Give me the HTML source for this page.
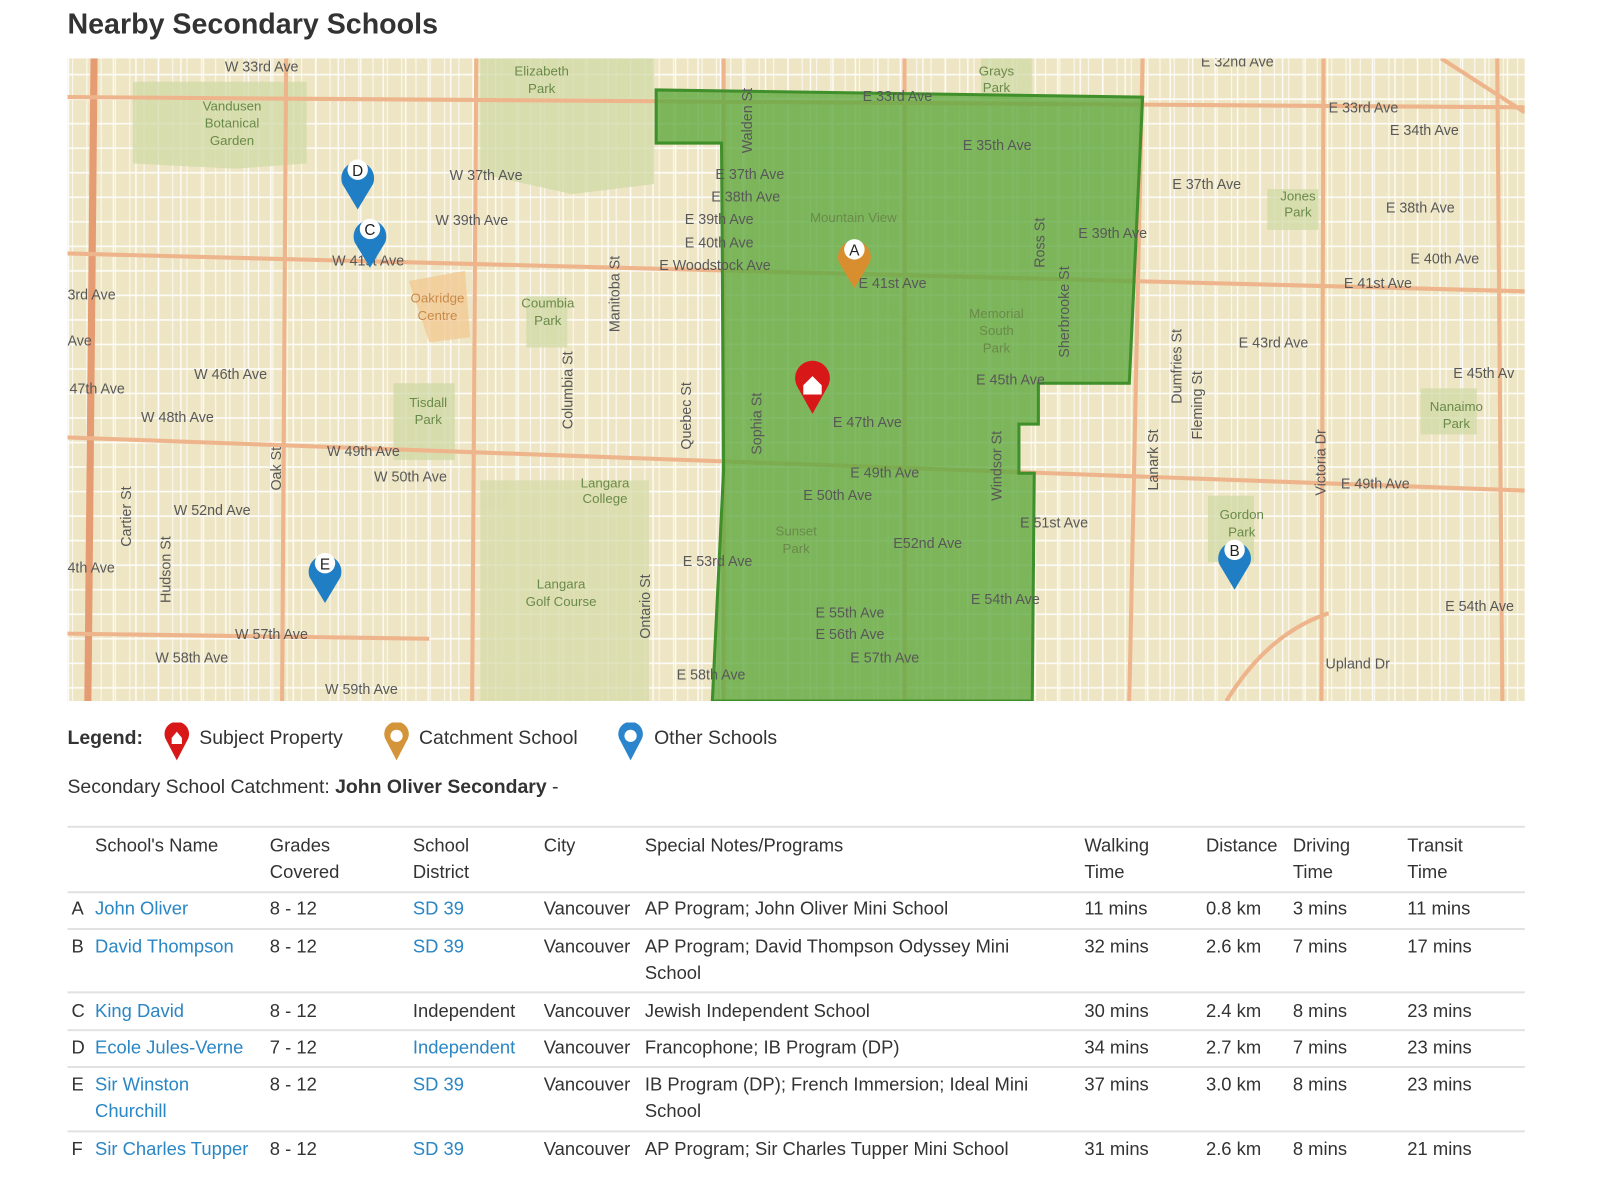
<!DOCTYPE html>
<html><head><meta charset="utf-8"><style>
html,body{margin:0;padding:0;background:#fff;width:1600px;height:1200px;overflow:hidden}
#w{position:absolute;left:0;top:0;width:1562px;height:1172px;transform:scale(1.022);transform-origin:0 0;font-family:"Liberation Sans",sans-serif;color:#333}
h1{position:absolute;left:66px;top:8px;margin:0;font-size:28px;font-weight:bold;color:#333}
#map{position:absolute;left:66px;top:57px;width:1426px;height:629px;overflow:hidden}
.lg{position:absolute;top:712px;font-size:19px;left:66px;white-space:nowrap}
.t{position:absolute;font-size:18px;white-space:nowrap;line-height:26px}
.a{color:#2a86c4}
.hl{position:absolute;left:66px;width:1426px;height:2px;background:#e2e2e2}
</style></head><body><div id="w">
<h1>Nearby Secondary Schools</h1>
<div id="map"><svg width="1426" height="629" viewBox="66 57 1426 629" xmlns="http://www.w3.org/2000/svg">
<defs>
<pattern id="st" x="0" y="0" width="22" height="24" patternUnits="userSpaceOnUse"><rect width="22" height="24" fill="none"/><line x1="0" y1="1" x2="22" y2="1" stroke="#fff" stroke-width="1.6"/><line x1="1" y1="0" x2="1" y2="24" stroke="#fff" stroke-width="1.4"/></pattern>
<pattern id="st2" x="0" y="0" width="14" height="48" patternUnits="userSpaceOnUse"><line x1="1" y1="0" x2="1" y2="48" stroke="#fff" stroke-width="1.2"/></pattern>
</defs>
<rect x="66" y="57" width="1426" height="629" fill="#ede5c3"/>
<rect x="66" y="57" width="1426" height="629" fill="url(#st)" opacity="0.9"/>
<rect x="66" y="57" width="1426" height="629" fill="url(#st2)" opacity="0.7"/>
<g opacity="0.75">
<path d="M130 80 L300 80 L300 160 L230 165 L130 160Z" fill="#d0d9a6"/>
<path d="M470 57 L640 57 L640 180 L560 190 L470 170Z" fill="#d0d9a6"/>
<rect x="470" y="470" width="165" height="216" fill="#d6dba8"/>
<rect x="385" y="375" width="60" height="75" fill="#d0d9a6"/>
<rect x="515" y="290" width="40" height="50" fill="#d0d9a6"/>
<path d="M400 275 L455 265 L460 330 L420 335Z" fill="#f2c891"/>
<rect x="1182" y="485" width="45" height="65" fill="#d0d9a6"/>
<rect x="1390" y="380" width="55" height="45" fill="#d0d9a6"/>
<rect x="1240" y="185" width="50" height="40" fill="#d0d9a6"/>
<rect x="960" y="57" width="50" height="40" fill="#d0d9a6"/>
</g>
<g stroke="#eeb58c" stroke-width="4" fill="none">
<line x1="92" y1="57" x2="86" y2="686" stroke="#e59c72" stroke-width="7"/>
<line x1="280" y1="57" x2="276" y2="686"/>
<line x1="466" y1="57" x2="462" y2="686"/>
<line x1="708" y1="57" x2="708" y2="686"/>
<line x1="885" y1="57" x2="885" y2="686"/>
<line x1="1118" y1="57" x2="1105" y2="686"/>
<line x1="1295" y1="57" x2="1293" y2="686"/>
<line x1="1465" y1="57" x2="1470" y2="686"/>
<line x1="66" y1="95" x2="1492" y2="105"/>
<line x1="66" y1="248" x2="1492" y2="285"/>
<line x1="66" y1="428" x2="1492" y2="480"/>
<line x1="66" y1="620" x2="420" y2="625"/>
<path d="M1410 57 L1492 110"/>
<path d="M1200 686 Q1240 620 1300 600"/>
</g>
<path d="M642 88 L1118 95 L1105 375 L1016 375 L1016 415 L997 415 L997 463 L1012 463 L1010 686 L697 686 L708 460 L706 140 L642 140Z" fill="#5da83e" fill-opacity="0.78" stroke="#3f8f2a" stroke-width="3"/>
<g fill="#585858" font-family="Liberation Sans,sans-serif" font-size="14">
<text x="220" y="70">W 33rd Ave</text><text x="440" y="176">W 37th Ave</text><text x="426" y="220">W 39th Ave</text>
<text x="325" y="260">W 41st Ave</text><text x="66" y="293">3rd Ave</text><text x="66" y="338">Ave</text>
<text x="190" y="371">W 46th Ave</text><text x="68" y="385">47th Ave</text><text x="138" y="413">W 48th Ave</text>
<text x="320" y="446">W 49th Ave</text><text x="366" y="471">W 50th Ave</text><text x="170" y="504">W 52nd Ave</text>
<text x="66" y="560">4th Ave</text><text x="230" y="625">W 57th Ave</text><text x="152" y="648">W 58th Ave</text><text x="318" y="679">W 59th Ave</text>
<text x="844" y="99">E 33rd Ave</text><text x="942" y="147">E 35th Ave</text><text x="700" y="175">E 37th Ave</text>
<text x="696" y="197">E 38th Ave</text><text x="670" y="219">E 39th Ave</text><text x="670" y="242">E 40th Ave</text>
<text x="645" y="264">E Woodstock Ave</text><text x="840" y="282">E 41st Ave</text><text x="1055" y="233">E 39th Ave</text>
<text x="955" y="376">E 45th Ave</text><text x="815" y="418">E 47th Ave</text><text x="832" y="467">E 49th Ave</text>
<text x="786" y="489">E 50th Ave</text><text x="874" y="536">E52nd Ave</text><text x="668" y="554">E 53rd Ave</text>
<text x="950" y="591">E 54th Ave</text><text x="798" y="604">E 55th Ave</text><text x="798" y="625">E 56th Ave</text>
<text x="832" y="648">E 57th Ave</text><text x="662" y="665">E 58th Ave</text><text x="998" y="516">E 51st Ave</text>
<text x="1175" y="65">E 32nd Ave</text><text x="1300" y="110">E 33rd Ave</text><text x="1360" y="132">E 34th Ave</text>
<text x="1147" y="185">E 37th Ave</text><text x="1356" y="208">E 38th Ave</text><text x="1380" y="258">E 40th Ave</text>
<text x="1315" y="282">E 41st Ave</text><text x="1212" y="340">E 43rd Ave</text><text x="1422" y="370">E 45th Av</text>
<text x="1312" y="478">E 49th Ave</text><text x="1414" y="598">E 54th Ave</text><text x="1297" y="654">Upland Dr</text>
</g>
<g fill="#6a8a4a" font-family="Liberation Sans,sans-serif" font-size="13" text-anchor="middle">
<text x="227" y="108">Vandusen</text><text x="227" y="125">Botanical</text><text x="227" y="142">Garden</text>
<text x="530" y="74">Elizabeth</text><text x="530" y="91">Park</text><text x="536" y="301">Coumbia</text><text x="536" y="318">Park</text>
<text x="419" y="398">Tisdall</text><text x="419" y="415">Park</text><text x="592" y="477">Langara</text><text x="592" y="492">College</text>
<text x="549" y="576">Langara</text><text x="549" y="593">Golf Course</text><text x="975" y="311">Memorial</text><text x="975" y="328">South</text><text x="975" y="345">Park</text>
<text x="779" y="524">Sunset</text><text x="779" y="541">Park</text><text x="835" y="217">Mountain View</text><text x="1215" y="508">Gordon</text><text x="1215" y="525">Park</text>
<text x="1425" y="402">Nanaimo</text><text x="1425" y="419">Park</text><text x="1270" y="196">Jones</text><text x="1270" y="212">Park</text><text x="975" y="74">Grays</text><text x="975" y="90">Park</text>
</g>
<text x="428" y="296" fill="#c98a4a" font-size="13" text-anchor="middle" font-family="Liberation Sans,sans-serif">Oakridge</text>
<text x="428" y="313" fill="#c98a4a" font-size="13" text-anchor="middle" font-family="Liberation Sans,sans-serif">Centre</text>
<g fill="#585858" font-family="Liberation Sans,sans-serif" font-size="14">
<text transform="translate(606,325) rotate(-90)">Manitoba St</text><text transform="translate(560,420) rotate(-90)">Columbia St</text>
<text transform="translate(676,440) rotate(-90)">Quebec St</text><text transform="translate(745,445) rotate(-90)">Sophia St</text>
<text transform="translate(736,150) rotate(-90)">Walden St</text><text transform="translate(1022,262) rotate(-90)">Ross St</text>
<text transform="translate(1046,350) rotate(-90)">Sherbrooke St</text><text transform="translate(1156,395) rotate(-90)">Dumfries St</text>
<text transform="translate(1176,430) rotate(-90)">Fleming St</text><text transform="translate(1297,485) rotate(-90)">Victoria Dr</text>
<text transform="translate(128,535) rotate(-90)">Cartier St</text><text transform="translate(167,590) rotate(-90)">Hudson St</text>
<text transform="translate(275,480) rotate(-90)">Oak St</text><text transform="translate(636,625) rotate(-90)">Ontario St</text>
<text transform="translate(980,490) rotate(-90)">Windsor St</text><text transform="translate(1133,480) rotate(-90)">Lanark St</text>
</g>
<g>
<path d="M795 405 L780 378 A17 17 0 1 1 810 378Z" fill="#d81818"/><path d="M786 377 L795 368 L804 377 L804 386 L786 386Z" fill="#fff"/>
<path d="M836 282 L821 257 A16 16 0 1 1 851 257Z" fill="#d88e2e"/><circle cx="836" cy="244" r="10" fill="#fff"/><text x="836" y="250" font-size="15" text-anchor="middle" fill="#222">A</text>
<path d="M350 205 L335 180 A16 16 0 1 1 365 180Z" fill="#1f7ec4"/><circle cx="350" cy="166" r="10" fill="#fff"/><text x="350" y="172" font-size="15" text-anchor="middle" fill="#222">D</text>
<path d="M362 262 L347 237 A16 16 0 1 1 377 237Z" fill="#1f7ec4"/><circle cx="362" cy="224" r="10" fill="#fff"/><text x="362" y="230" font-size="15" text-anchor="middle" fill="#222">C</text>
<path d="M318 590 L303 565 A16 16 0 1 1 333 565Z" fill="#1f7ec4"/><circle cx="318" cy="551" r="10" fill="#fff"/><text x="318" y="557" font-size="15" text-anchor="middle" fill="#222">E</text>
<path d="M1208 577 L1193 552 A16 16 0 1 1 1223 552Z" fill="#1f7ec4"/><circle cx="1208" cy="538" r="10" fill="#fff"/><text x="1208" y="544" font-size="15" text-anchor="middle" fill="#222">B</text>
</g>
</svg></div>
<div class="lg"><b>Legend:</b></div>
<svg style="position:absolute;left:160px;top:707px" width="28" height="38"><path d="M13 37 L2 16 A12 12 0 1 1 24 16Z" fill="#d81818"/><path d="M8 15 L13 9 L18 15 L18 21 L8 21Z" fill="#fff"/></svg>
<div class="lg" style="left:195px">Subject Property</div>
<svg style="position:absolute;left:375px;top:707px" width="28" height="38"><path d="M13 37 L2 16 A12 12 0 1 1 24 16Z" fill="#d4953a"/><circle cx="13" cy="13" r="6" fill="#fff"/></svg>
<div class="lg" style="left:410px">Catchment School</div>
<svg style="position:absolute;left:604px;top:707px" width="28" height="38"><path d="M13 37 L2 16 A12 12 0 1 1 24 16Z" fill="#2b85cc"/><circle cx="13" cy="13" r="6" fill="#fff"/></svg>
<div class="lg" style="left:640px">Other Schools</div>
<div class="lg" style="top:760px">Secondary School Catchment: <b>John Oliver Secondary</b> -</div>
<div class="hl" style="top:808px"></div>
<div class="t" style="left:93px;top:814px">School's Name</div>
<div class="t" style="left:264px;top:814px">Grades<br>Covered</div>
<div class="t" style="left:404px;top:814px">School<br>District</div>
<div class="t" style="left:532px;top:814px">City</div>
<div class="t" style="left:631px;top:814px">Special Notes/Programs</div>
<div class="t" style="left:1061px;top:814px">Walking<br>Time</div>
<div class="t" style="left:1180px;top:814px">Distance</div>
<div class="t" style="left:1265px;top:814px">Driving<br>Time</div>
<div class="t" style="left:1377px;top:814px">Transit<br>Time</div>
<div class="hl" style="top:872px"></div>
<div class="t" style="left:70px;top:876px">A</div><div class="t a" style="left:93px;top:876px">John Oliver</div><div class="t" style="left:264px;top:876px">8 - 12</div><div class="t a" style="left:404px;top:876px">SD 39</div><div class="t" style="left:532px;top:876px">Vancouver</div><div class="t" style="left:631px;top:876px">AP Program; John Oliver Mini School</div><div class="t" style="left:1061px;top:876px">11 mins</div><div class="t" style="left:1180px;top:876px">0.8 km</div><div class="t" style="left:1265px;top:876px">3 mins</div><div class="t" style="left:1377px;top:876px">11 mins</div>
<div class="hl" style="top:908px"></div>
<div class="t" style="left:70px;top:913px">B</div><div class="t a" style="left:93px;top:913px">David Thompson</div><div class="t" style="left:264px;top:913px">8 - 12</div><div class="t a" style="left:404px;top:913px">SD 39</div><div class="t" style="left:532px;top:913px">Vancouver</div><div class="t" style="left:631px;top:913px">AP Program; David Thompson Odyssey Mini<br>School</div><div class="t" style="left:1061px;top:913px">32 mins</div><div class="t" style="left:1180px;top:913px">2.6 km</div><div class="t" style="left:1265px;top:913px">7 mins</div><div class="t" style="left:1377px;top:913px">17 mins</div>
<div class="hl" style="top:970px"></div>
<div class="t" style="left:70px;top:976px">C</div><div class="t a" style="left:93px;top:976px">King David</div><div class="t" style="left:264px;top:976px">8 - 12</div><div class="t" style="left:404px;top:976px">Independent</div><div class="t" style="left:532px;top:976px">Vancouver</div><div class="t" style="left:631px;top:976px">Jewish Independent School</div><div class="t" style="left:1061px;top:976px">30 mins</div><div class="t" style="left:1180px;top:976px">2.4 km</div><div class="t" style="left:1265px;top:976px">8 mins</div><div class="t" style="left:1377px;top:976px">23 mins</div>
<div class="hl" style="top:1007px"></div>
<div class="t" style="left:70px;top:1012px">D</div><div class="t a" style="left:93px;top:1012px">Ecole Jules-Verne</div><div class="t" style="left:264px;top:1012px">7 - 12</div><div class="t a" style="left:404px;top:1012px">Independent</div><div class="t" style="left:532px;top:1012px">Vancouver</div><div class="t" style="left:631px;top:1012px">Francophone; IB Program (DP)</div><div class="t" style="left:1061px;top:1012px">34 mins</div><div class="t" style="left:1180px;top:1012px">2.7 km</div><div class="t" style="left:1265px;top:1012px">7 mins</div><div class="t" style="left:1377px;top:1012px">23 mins</div>
<div class="hl" style="top:1043px"></div>
<div class="t" style="left:70px;top:1048px">E</div><div class="t a" style="left:93px;top:1048px">Sir Winston<br>Churchill</div><div class="t" style="left:264px;top:1048px">8 - 12</div><div class="t a" style="left:404px;top:1048px">SD 39</div><div class="t" style="left:532px;top:1048px">Vancouver</div><div class="t" style="left:631px;top:1048px">IB Program (DP); French Immersion; Ideal Mini<br>School</div><div class="t" style="left:1061px;top:1048px">37 mins</div><div class="t" style="left:1180px;top:1048px">3.0 km</div><div class="t" style="left:1265px;top:1048px">8 mins</div><div class="t" style="left:1377px;top:1048px">23 mins</div>
<div class="hl" style="top:1106px"></div>
<div class="t" style="left:70px;top:1111px">F</div><div class="t a" style="left:93px;top:1111px">Sir Charles Tupper</div><div class="t" style="left:264px;top:1111px">8 - 12</div><div class="t a" style="left:404px;top:1111px">SD 39</div><div class="t" style="left:532px;top:1111px">Vancouver</div><div class="t" style="left:631px;top:1111px">AP Program; Sir Charles Tupper Mini School</div><div class="t" style="left:1061px;top:1111px">31 mins</div><div class="t" style="left:1180px;top:1111px">2.6 km</div><div class="t" style="left:1265px;top:1111px">8 mins</div><div class="t" style="left:1377px;top:1111px">21 mins</div>
</div></body></html>
